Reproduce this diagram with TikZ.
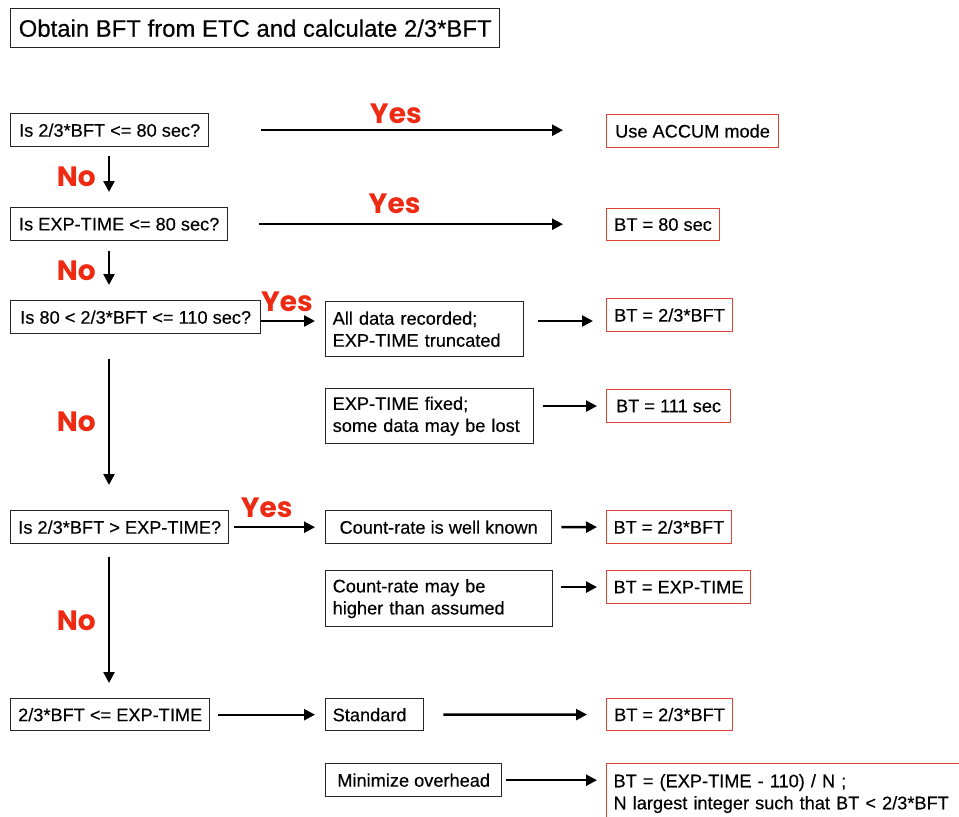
\documentclass[tikz,border=0pt]{standalone}
\usepackage{fontspec}
\setmainfont{Liberation Sans}[FakeBold=0.3]
\newfontfamily\yesfont{Poppins}
\usetikzlibrary{calc}
\usetikzlibrary{positioning}
\usetikzlibrary{arrows.meta}

\definecolor{boxred}{RGB}{224,66,54}
\definecolor{yesred}{RGB}{238,42,18}

\tikzset{
    box/.style={draw=black!85, line width=1.4bp, anchor=north west, align=left,
        inner xsep=7bp, inner ysep=0bp, minimum height=33bp,
        font=\fontsize{18.2bp}{22bp}\selectfont},
    redbox/.style={box, draw=boxred, line width=1.1bp},
    arr/.style={line width=2.4bp, -{Triangle[length=11bp,width=11bp]}},
    yes/.style={text=yesred, inner sep=0bp,
        font=\yesfont\bfseries\fontsize{28bp}{28bp}\selectfont},
}

\begin{document}
\begin{tikzpicture}[x=1bp, y=-1bp]
        \useasboundingbox (0,0) rectangle (959,817);
        \clip (0,0) rectangle (959,817);

        \node[box, minimum width=489bp, minimum height=39bp,
            font=\fontsize{23.9bp}{26bp}\selectfont] (title) at (10,8)
            {Obtain BFT from ETC and calculate 2/3*BFT};

        % questions down the left side
        \node[box, minimum width=198bp] (q1) at (10,113) {Is 2/3*BFT <= 80 sec?};
        \node[box, minimum width=217bp] (q2) at (10,207) {Is EXP-TIME <= 80 sec?};
        \node[box, minimum width=250bp] (q3) at (10,300) {Is 80 < 2/3*BFT <= 110 sec?};
        \node[box, minimum width=218bp] (q4) at (10,510) {Is 2/3*BFT > EXP-TIME?};
        \node[box, minimum width=199bp, minimum height=32bp, inner xsep=6bp] (q5) at (10,698) {2/3*BFT <= EXP-TIME};

        % middle column
        \node[box, text width=184bp, minimum height=55bp] (m1) at (325,301) {All data recorded;\\EXP-TIME truncated};
        \node[box, text width=194bp, minimum height=55bp] (m2) at (325,388) {EXP-TIME fixed;\\some data may be lost};
        \node[box, minimum width=226bp] (m3) at (325,510) {Count-rate is well known};
        \node[box, text width=213bp, minimum height=56bp] (m4) at (325,570) {Count-rate may be\\higher than assumed};
        \node[box, text width=84bp, minimum height=32bp] (m5) at (325,698) {Standard};
        \node[box, minimum width=176bp] (m6) at (325,763) {Minimize overhead};

        % results
        \node[redbox, minimum width=172bp] (r1) at (606,114) {Use ACCUM mode};
        \node[redbox, minimum width=113bp, minimum height=32bp] (r2) at (606,208) {BT = 80 sec};
        \node[redbox, minimum width=126bp] (r3) at (606,298) {BT = 2/3*BFT};
        \node[redbox, minimum width=124bp] (r4) at (606,389) {BT = 111 sec};
        \node[redbox, minimum width=124bp] (r5) at (606,510) {BT = 2/3*BFT};
        \node[redbox, minimum width=144bp] (r6) at (606,570) {BT = EXP-TIME};
        \node[redbox, minimum width=126bp, minimum height=32bp] (r7) at (606,698) {BT = 2/3*BFT};
        \node[redbox, text width=366bp, minimum height=60bp] (r8) at (606,763)
            {BT = (EXP-TIME - 110) / N ;\\N largest integer such that BT < 2/3*BFT};

        \coordinate (row3) at (0,321);

        % yes branches
        \draw[arr, shorten <=52bp, shorten >=43bp] (q1.east) -- (r1.west |- q1.east)
            node[yes, pos=0.47, above=5bp] {Yes};
        \draw[arr, shorten <=31bp, shorten >=43bp] (q2.east) -- (r2.west |- q2.east)
            node[yes, pos=0.44, above=9bp] {Yes};
        \draw[arr, shorten >=10bp] (q3.east |- row3) -- (m1.west |- row3)
            node[yes, pos=0.4, above=8bp] {Yes};
        \draw[arr, shorten <=5bp, shorten >=10bp] (q4.east) -- (m3.west)
            node[yes, pos=0.39, above=8bp] {Yes};
        \draw[arr, shorten <=8bp, shorten >=10bp] (q5.east) -- (m5.west);

        % no branches
        \draw[arr, shorten <=9bp, shorten >=15bp] ([xshift=99bp]q1.south west) -- ([xshift=99bp]q2.north west)
            node[yes, midway, left=12bp] {No};
        \draw[arr, shorten <=10bp, shorten >=15bp] ([xshift=99bp]q2.south west) -- ([xshift=99bp]q3.north west)
            node[yes, midway, left=12bp] {No};
        \draw[arr, shorten <=25bp, shorten >=25bp] ([xshift=99bp]q3.south west) -- ([xshift=99bp]q4.north west)
            node[yes, midway, left=12bp] {No};
        \draw[arr, shorten <=13bp, shorten >=15bp] ([xshift=99bp]q4.south west) -- ([xshift=99bp]q5.north west)
            node[yes, midway, left=12bp] {No};

        % to the results
        \draw[arr, shorten <=14bp, shorten >=13bp] (m1.east |- row3) -- (r3.west |- row3);
        \draw[arr, shorten <=9bp, shorten >=9bp] (m2.east |- r4.west) -- (r4.west);
        \draw[arr, shorten <=9bp, shorten >=9bp] (m3.east) -- (r5.west);
        \draw[arr, shorten <=8bp, shorten >=9bp] (m4.east |- r6.west) -- (r6.west);
        \draw[arr, shorten <=19bp, shorten >=19bp] (m5.east) -- (r7.west);
        \draw[arr, shorten <=4bp, shorten >=9bp] (m6.east) -- (r8.west |- m6.east);
\end{tikzpicture}
\end{document}
